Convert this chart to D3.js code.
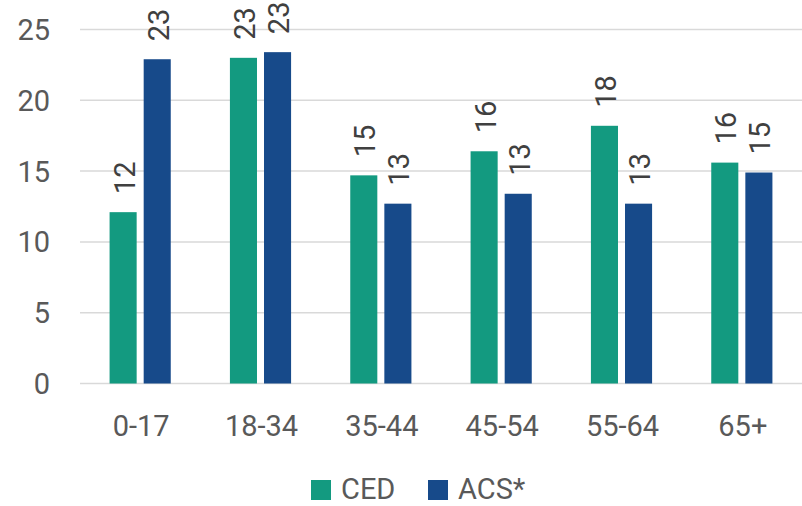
<!DOCTYPE html>
<html>
<head>
<meta charset="utf-8">
<script src="https://cdn.jsdelivr.net/npm/d3@7"></script>
<style>
  html, body { margin: 0; padding: 0; background: #ffffff; }
  svg { display: block; }
</style>
</head>
<body>
<svg id="chart" width="802" height="506"></svg>
<script>
const categories = ["0-17", "18-34", "35-44", "45-54", "55-64", "65+"];
const seriesNames = ["CED", "ACS*"];
const cedValues = [12.1, 23.0, 14.7, 16.4, 18.2, 15.6];
const acsValues = [22.9, 23.4, 12.7, 13.4, 12.7, 14.9];
const cedLabels = ["12", "23", "15", "16", "18", "16"];
const acsLabels = ["23", "23", "13", "13", "13", "15"];
const yTicks = [0, 5, 10, 15, 20, 25];
const colors = ["#139A80", "#174A8A"];

const svg = d3.select("#chart");
const font = "Roboto, 'Open Sans', sans-serif";
const margin = { left: 80, right: 802, top: 30, bottom: 383.5 };

const x0 = d3.scaleBand().domain(categories).range([margin.left, margin.right])
  .paddingInner(0.4917).paddingOuter(0.4917 / 2);
const x1 = d3.scaleBand().domain(seriesNames).range([0, x0.bandwidth()])
  .paddingInner(0.206).paddingOuter(0);
const y = d3.scaleLinear().domain([0, 25]).range([margin.bottom, 29.5]);

// gridlines
svg.append("g").selectAll("line").data(yTicks).join("line")
  .attr("x1", margin.left).attr("x2", 802)
  .attr("y1", d => y(d)).attr("y2", d => y(d))
  .attr("stroke", "#d9d9d9").attr("stroke-width", 1.5);

// y tick labels
svg.append("g").selectAll("text").data(yTicks).join("text")
  .attr("x", 50).attr("y", d => y(d))
  .attr("dy", "0.36em")
  .attr("text-anchor", "end")
  .attr("font-family", font).attr("font-size", 29)
  .attr("fill", "#595959")
  .text(d => d);

const rows = categories.map((c, i) => ({
  cat: c,
  vals: [
    { s: seriesNames[0], v: cedValues[i], l: cedLabels[i], c: colors[0] },
    { s: seriesNames[1], v: acsValues[i], l: acsLabels[i], c: colors[1] }
  ]
}));

const groups = svg.append("g").selectAll("g").data(rows).join("g")
  .attr("transform", d => `translate(${x0(d.cat)},0)`);

groups.selectAll("rect").data(d => d.vals).join("rect")
  .attr("x", d => x1(d.s))
  .attr("y", d => y(d.v))
  .attr("width", x1.bandwidth())
  .attr("height", d => y(0) - y(d.v))
  .attr("fill", d => d.c);

groups.selectAll("text").data(d => d.vals).join("text")
  .attr("transform", d => `translate(${x1(d.s) + x1.bandwidth() / 2 + 1},${y(d.v) - 18}) rotate(-90)`)
  .attr("dy", "0.36em")
  .attr("text-anchor", "start")
  .attr("font-family", font).attr("font-size", 29)
  .attr("fill", "#404040")
  .text(d => d.l);

// category labels
svg.append("g").selectAll("text").data(categories).join("text")
  .attr("x", d => x0(d) + x0.bandwidth() / 2 + 1)
  .attr("y", 436)
  .attr("text-anchor", "middle")
  .attr("font-family", font).attr("font-size", 29)
  .attr("fill", "#595959")
  .text(d => d);

// legend
const legendItems = [
  { name: seriesNames[0], color: colors[0], x: 311 },
  { name: seriesNames[1], color: colors[1], x: 428 }
];
const lg = svg.append("g").selectAll("g").data(legendItems).join("g")
  .attr("transform", d => `translate(${d.x},0)`);
lg.append("rect").attr("x", 0).attr("y", 480).attr("width", 20).attr("height", 20)
  .attr("fill", d => d.color);
lg.append("text").attr("x", 30).attr("y", 499)
  .attr("font-family", font).attr("font-size", 29)
  .attr("fill", "#595959")
  .text(d => d.name);
</script>
</body>
</html>
